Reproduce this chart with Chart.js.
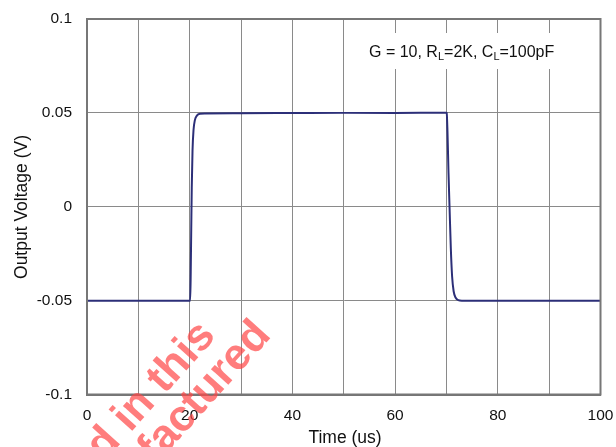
<!DOCTYPE html>
<html>
<head>
<meta charset="utf-8">
<script src="https://cdn.jsdelivr.net/npm/chart.js@4.4.0/dist/chart.umd.min.js"></script>
<style>
  html, body { margin: 0; padding: 0; background: #fff; }
  #wrap { width: 616px; height: 447px; position: relative; }
</style>
</head>
<body>
<div id="wrap"><canvas id="stepChart" width="616" height="447"></canvas></div>
<script>
// time (us) and output voltage (V)
const timeUs = [0, 10, 20, 20.1, 20.2, 20.3, 20.4, 20.55, 20.75, 21, 21.4, 22, 23, 30, 40, 50, 60, 70, 70.05,
                70.2, 70.4, 70.6, 70.85, 71.1, 71.4, 71.8, 72.3, 73, 80, 90, 100];
const voltage = [-0.05, -0.05, -0.05, -0.05, -0.035, -0.012, 0.01, 0.03, 0.041, 0.046, 0.0485, 0.0495, 0.0497, 0.0498, 0.0499, 0.05, 0.05, 0.0501, 0.05,
                 0.04, 0.018, 0.0, -0.022, -0.037, -0.045, -0.0485, -0.0497, -0.05, -0.05, -0.05, -0.05];

const xGrid = [0, 10, 20, 30, 40, 50, 60, 70, 80, 90, 100];
const xTickLabels = ['0', '', '20', '', '40', '', '60', '', '80', '', '100'];
const yGrid = [-0.1, -0.05, 0, 0.05, 0.1];
const yTickLabels = ['-0.1', '-0.05', '0', '0.05', '0.1'];

const FONT = '"Liberation Sans", Arial, Helvetica, sans-serif';

const extras = {
    id: 'extras',
    beforeDatasetsDraw(chart) {
        const { ctx } = chart;
        // white box behind the condition note
        ctx.save();
        ctx.fillStyle = '#fff';
        ctx.fillRect(356, 33, 218, 36);
        ctx.restore();
    },
    afterDraw(chart) {
        const { ctx, chartArea: a } = chart;
        ctx.save();
        // frame
        ctx.strokeStyle = '#777';
        ctx.lineWidth = 2;
        ctx.strokeRect(a.left, a.top, a.right - a.left, a.bottom - a.top);

        // condition note with subscripts
        ctx.fillStyle = '#111';
        ctx.textBaseline = 'alphabetic';
        let x = 369;
        const y = 56.5;
        const parts = [['G = 10, R', 16, 0], ['L', 11, 3], ['=2K, C', 16, 0], ['L', 11, 3], ['=100pF', 16, 0]];
        parts.forEach(([t, s, dy]) => {
            ctx.font = s + 'px ' + FONT;
            ctx.fillText(t, x, y + dy);
            x += ctx.measureText(t).width;
        });

        // axis titles
        ctx.font = '17.5px ' + FONT;
        ctx.textAlign = 'center';
        ctx.fillText('Time (us)', 345, 443);
        ctx.save();
        ctx.translate(22, 207);
        ctx.rotate(-Math.PI / 2);
        ctx.textBaseline = 'middle';
        ctx.fillText('Output Voltage (V)', 0, 0);
        ctx.restore();

        // watermark
        ctx.fillStyle = 'rgba(255, 70, 70, 0.7)';
        ctx.font = 'bold 44px ' + FONT;
        ctx.textAlign = 'left';
        ctx.textBaseline = 'alphabetic';
        ctx.save();
        ctx.translate(104, 462);
        ctx.rotate(-48 * Math.PI / 180);
        ctx.fillText('d in this', 0, 0);
        ctx.restore();
        ctx.save();
        ctx.translate(156, 465);
        ctx.rotate(-48 * Math.PI / 180);
        ctx.fillText('factured', 0, 0);
        ctx.restore();
        ctx.restore();
    }
};

new Chart(document.getElementById('stepChart'), {
    type: 'line',
    data: {
        labels: timeUs,
        datasets: [{
            data: timeUs.map((t, i) => ({ x: t, y: voltage[i] })),
            borderColor: '#2c2f78',
            borderWidth: 2,
            pointRadius: 0,
            tension: 0.3,
            cubicInterpolationMode: 'monotone',
            fill: false
        }]
    },
    options: {
        responsive: false,
        animation: false,
        layout: { padding: { top: 19, right: 15.5, left: 0, bottom: 0 } },
        plugins: { legend: { display: false }, tooltip: { enabled: false } },
        scales: {
            x: {
                type: 'linear',
                min: 0,
                max: 100,
                afterBuildTicks: s => { s.ticks = xGrid.map(v => ({ value: v })); },
                afterFit: s => {
                    s.height = 52.5;
                    s.paddingLeft = 0;
                    s.paddingRight = 0;
                },
                grid: { color: '#8a8a8a', lineWidth: 1, drawTicks: false },
                border: { color: '#777', width: 2 },
                ticks: {
                    padding: 12,
                    color: '#111',
                    font: { family: FONT, size: 15.5 },
                    maxRotation: 0,
                    autoSkip: false,
                    callback: (v, i) => xTickLabels[i]
                }
            },
            y: {
                min: -0.1,
                max: 0.1,
                afterBuildTicks: s => { s.ticks = yGrid.map(v => ({ value: v })); },
                afterFit: s => {
                    s.width = 87;
                    s.paddingTop = 0;
                    s.paddingBottom = 0;
                },
                grid: { color: '#8a8a8a', lineWidth: 1, drawTicks: false },
                border: { color: '#777', width: 2 },
                ticks: {
                    padding: 15,
                    color: '#111',
                    font: { family: FONT, size: 15.5 },
                    callback: (v, i) => yTickLabels[i]
                }
            }
        }
    },
    plugins: [extras]
});
</script>
</body>
</html>
